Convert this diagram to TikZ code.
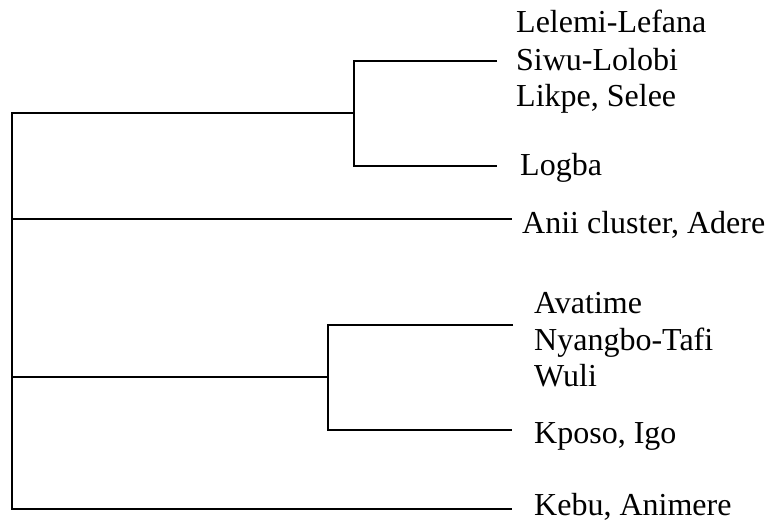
\documentclass[tikz,border=0pt]{standalone}
\usepackage{fontspec}
\setmainfont{Liberation Serif}
\begin{document}
\begin{tikzpicture}[x=1pt, y=-1pt, font=\fontsize{32}{37}\selectfont]
    \tikzstyle{leaf_style} = [anchor=base west, inner sep=0pt]
    \tikzstyle{branch} = [black, line width=1.5]

    \useasboundingbox (0,0) rectangle (771,529);

    % junctions
    \coordinate (nR1) at (12,113);
    \coordinate (nR2) at (12,219);
    \coordinate (nR3) at (12,377);
    \coordinate (nR4) at (12,509);
    \coordinate (nUm) at (354,113);
    \coordinate (nUt) at (354,61);
    \coordinate (nUb) at (354,166);
    \coordinate (nLm) at (328,377);
    \coordinate (nLt) at (328,325);
    \coordinate (nLb) at (328,430);

    % line ends
    \coordinate (eSiwu) at (497,61);
    \coordinate (eLogba) at (497,166);
    \coordinate (eAnii) at (512,219);
    \coordinate (eAvatime) at (513,325);
    \coordinate (eKposo) at (512,430);
    \coordinate (eKebu) at (512,509);

    % labels
    \node[leaf_style] (nLelemi) at (516,33) {Lelemi-Lefana};
    \node[leaf_style] (nSiwu) at (516,71) {Siwu-Lolobi};
    \node[leaf_style] (nLikpe) at (516,107) {Likpe, Selee};
    \node[leaf_style] (nLogba) at (520,176) {Logba};
    \node[leaf_style] (nAnii) at (522,234) {Anii cluster, Adere};
    \node[leaf_style] (nAvatime) at (534,313) {Avatime};
    \node[leaf_style] (nNyangbo) at (534,350) {Nyangbo-Tafi};
    \node[leaf_style] (nWuli) at (534,386) {Wuli};
    \node[leaf_style] (nKposo) at (534,443) {Kposo, Igo};
    \node[leaf_style] (nKebu) at (534,515) {Kebu, Animere};

    \draw[branch] (nUm) -- (nR1) -- (nR4) -- (eKebu);
    \draw[branch] (nR2) -- (eAnii);
    \draw[branch] (nR3) -- (nLm);
    \draw[branch] (eSiwu) -- (nUt) -- (nUb) -- (eLogba);
    \draw[branch] (eAvatime) -- (nLt) -- (nLb) -- (eKposo);
\end{tikzpicture}
\end{document}
